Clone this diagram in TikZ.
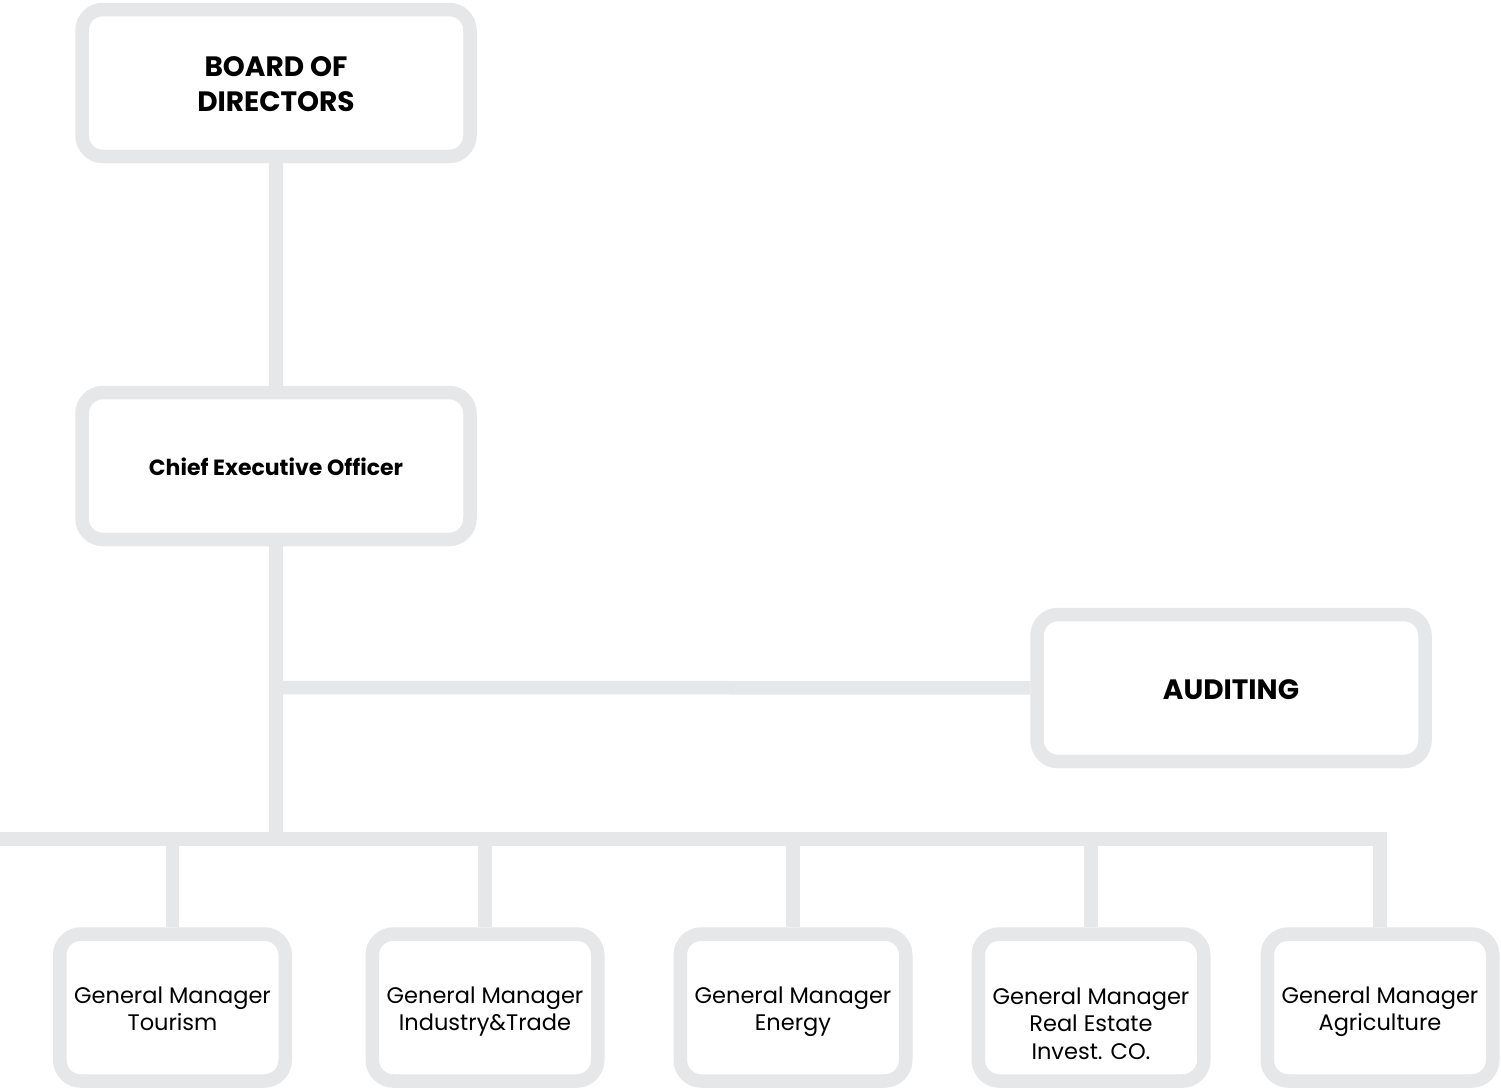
\documentclass[tikz,border=0pt]{standalone}
\usepackage{fontspec}
\setmainfont{Poppins}
\definecolor{linegray}{HTML}{E6E7E8}
\newcommand\mytopstrut{\rule{0pt}{\dimexpr0.8\baselineskip+4pt\relax}}
\newcommand\mybotstrut{\rule[\dimexpr-0.4\baselineskip+4pt\relax]{0pt}{\dimexpr0.4\baselineskip-4pt\relax}}
\tikzset{
  box/.style={draw=linegray, line width=13.5pt, rounded corners=21pt, fill=white,
    align=center, text=black, inner sep=0pt},
  bigbox/.style={box, minimum width=388pt, minimum height=147pt},
  boldtext/.style={font=\fontsize{28}{35}\selectfont\bfseries},
  ceotext/.style={font=\fontsize{22}{27}\selectfont\bfseries},
  gmbox/.style={box, minimum width=225.5pt, minimum height=147pt},
  gmtext/.style={align=center, text=black, inner sep=0pt, font=\fontsize{22.5}{27.5}\selectfont},
  conn/.style={draw=linegray, line width=13.5pt, line join=miter},
}
\begin{document}
\begin{tikzpicture}[x=1pt,y=-1pt]
\useasboundingbox (0,0) rectangle (1501,1090);
\coordinate (busleft) at (0,839);
\coordinate (busright) at (1380,839);
\coordinate (auditjoin) at (276,687.5);
\coordinate (busjoin) at (276,839);
\node[bigbox, boldtext] (board) at (276,83) {\mytopstrut BOARD OF\\DIRECTORS\mybotstrut};
\node[bigbox, ceotext] (ceo) at (276,466) {\mytopstrut Chief Executive Officer\mybotstrut};
\node[bigbox, boldtext] (audit) at (1231,688) {\mytopstrut AUDITING\mybotstrut};
\node[gmbox, gmtext] (tour) at (172.5,1007.5) {\mytopstrut General Manager\\Tourism\mybotstrut};
\node[gmbox, gmtext] (ind) at (485,1007.5) {\mytopstrut General Manager\\Industry\&Trade\mybotstrut};
\node[gmbox, gmtext] (ene) at (793,1007.5) {\mytopstrut General Manager\\Energy\mybotstrut};
\node[gmbox] (re) at (1091,1007.5) {};
\node[gmtext] (retext) at (1091,1022) {\mytopstrut General Manager\\Real Estate\\Invest. CO.\mybotstrut};
\node[gmbox, gmtext] (agri) at (1380,1007.5) {\mytopstrut General Manager\\Agriculture\mybotstrut};
\draw[conn] (board) -- (ceo);
\draw[conn] (ceo) -- (busjoin);
\draw[conn] (auditjoin) -- (audit);
\draw[conn] (busleft) -- (busright) -- (agri);
\draw[conn] (tour |- busjoin) -- (tour);
\draw[conn] (ind |- busjoin) -- (ind);
\draw[conn] (ene |- busjoin) -- (ene);
\draw[conn] (re |- busjoin) -- (re);
\end{tikzpicture}
\end{document}
